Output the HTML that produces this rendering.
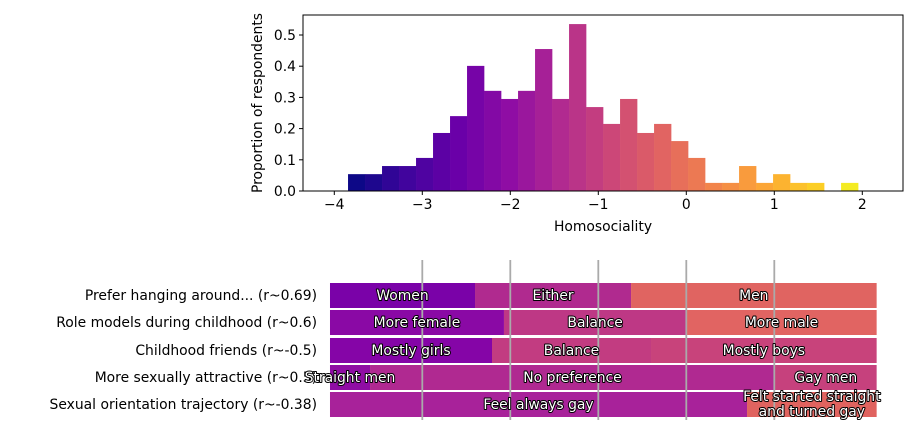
<!DOCTYPE html>
<html><head><meta charset="utf-8"><style>
body{margin:0;background:#fff}
svg{display:block;font-family:"DejaVu Sans","Liberation Sans",sans-serif}
.lbl{fill:#fff;stroke:#000;stroke-width:2px;paint-order:stroke;stroke-linejoin:round;font-size:13.9px}
</style></head><body>
<svg id="chart" width="922" height="429"></svg>
<script>
const binValues=[0.054,0.054,0.080,0.080,0.106,0.186,0.240,0.401,0.321,0.295,0.321,0.455,0.295,0.535,0.269,0.215,0.295,0.186,0.215,0.160,0.106,0.026,0.026,0.080,0.026,0.054,0.026,0.026,0,0.026];
const binStart=-3.844;
const binWidth=0.1932;
const xTicks=[-4,-3,-2,-1,0,1,2];
const yTicks=[0,0.1,0.2,0.3,0.4,0.5];
const rowLabels=["Prefer hanging around... (r~0.69)","Role models during childhood (r~0.6)","Childhood friends (r~-0.5)","More sexually attractive (r~0.5)","Sexual orientation trajectory (r~-0.38)"];
const segLabels=[["Women","Either","Men"],["More female","Balance","More male"],["Mostly girls","Balance","Mostly boys"],["Straight men","No preference","Gay men"],["Feel always gay","Felt started straight|and turned gay"]];
const segBounds=[[-4.049,-2.401,-0.628,2.163],[-4.049,-2.072,0.0,2.163],[-4.049,-2.208,-0.401,2.163],[-4.049,-3.594,1.008,2.163],[-4.049,0.690,2.163]];
const segColors=[["#7a02a8","#b02a8f","#e06461"],["#8a09a5","#be3885","#e16462"],["#8505a7","#c23c81","#c8437b"],["#8f0da4","#b02991","#c6417d"],["#a8229a","#e0635f"]];
const gridVals=[-3,-2,-1,0,1];

const NS="http://www.w3.org/2000/svg";
const svg=document.getElementById('chart');
const FS=13.9;
function mk(t,a,p){const e=document.createElementNS(NS,t);for(const k in a)e.setAttribute(k,a[k]);(p||svg).appendChild(e);return e;}
const X=v=>334.3+(v+4)*88;
const Y=v=>191-v*312;
const stops=["#0d0887","#41049d","#6a00a8","#8f0da4","#b12a90","#cc4778","#e16462","#f2844b","#fca636","#fcce25","#f0f921"];
function hex(h){return [1,3,5].map(i=>parseInt(h.substr(i,2),16));}
function plasma(t){const s=t*10,i=Math.min(9,Math.floor(s)),f=s-i;const a=hex(stops[i]),b=hex(stops[i+1]);return `rgb(${a.map((c,k)=>Math.round(c+(b[k]-c)*f)).join(',')})`;}

binValues.forEach((v,i)=>{
  if(v<=0)return;
  const x0=X(binStart+i*binWidth),x1=X(binStart+(i+1)*binWidth);
  const r=mk('rect',{x:x0,y:Y(v),width:x1-x0+0.3,height:Y(0)-Y(v),fill:plasma(i/(binValues.length))});
  
  
});
const frame=mk('rect',{x:303,y:15,width:600,height:176,fill:'none',stroke:'#000','stroke-width':1});


xTicks.forEach(t=>{
  mk('line',{x1:X(t),x2:X(t),y1:191,y2:195,stroke:'#000'});
  const tx=mk('text',{x:X(t),y:209,'text-anchor':'middle','font-size':FS});
  tx.textContent=(t<0?'\u2212'+(-t):t);
  
  
});
yTicks.forEach(t=>{
  mk('line',{x1:299,x2:303,y1:Y(t),y2:Y(t),stroke:'#000'});
  const tx=mk('text',{x:296,y:Y(t)+5,'text-anchor':'end','font-size':FS});
  tx.textContent=t.toFixed(1);
  
  
});
const xl=mk('text',{x:603,y:231,'text-anchor':'middle','font-size':FS});
xl.textContent='Homosociality';


const yl=mk('text',{x:0,y:0,'text-anchor':'middle','font-size':FS,transform:'translate(262,103) rotate(-90)'});
yl.textContent='Proportion of respondents';



const rowTop=[283,310,338,365,392];
rowLabels.forEach((lab,r)=>{
  const y0=rowTop[r],h=25;
  const b=segBounds[r];
  for(let s=0;s<b.length-1;s++){
    const rc=mk('rect',{x:X(b[s]),y:y0,width:X(b[s+1])-X(b[s]),height:h,fill:segColors[r][s]});
    
    
  }
  const t=mk('text',{x:317,y:y0+17,'text-anchor':'end','font-size':FS});
  t.textContent=lab;
  
  
});
gridVals.forEach(g=>{
  const l=mk('line',{x1:X(g),x2:X(g),y1:260,y2:420,stroke:'#aaa','stroke-width':1.8});
  
  
});
rowLabels.forEach((lab,r)=>{
  const y0=rowTop[r];const b=segBounds[r];
  segLabels[r].forEach((s,k)=>{
    const cx=(X(b[k])+X(b[k+1]))/2;
    const lines=s.split('|');
    const t=mk('text',{x:cx,y:y0+17-(lines.length-1)*8,'text-anchor':'middle',class:'lbl'});
    lines.forEach((ln,j)=>{const ts=mk('tspan',{x:cx,dy:j?15:0},t);ts.textContent=ln;});
    
    
  });
});
</script>
</body></html>
